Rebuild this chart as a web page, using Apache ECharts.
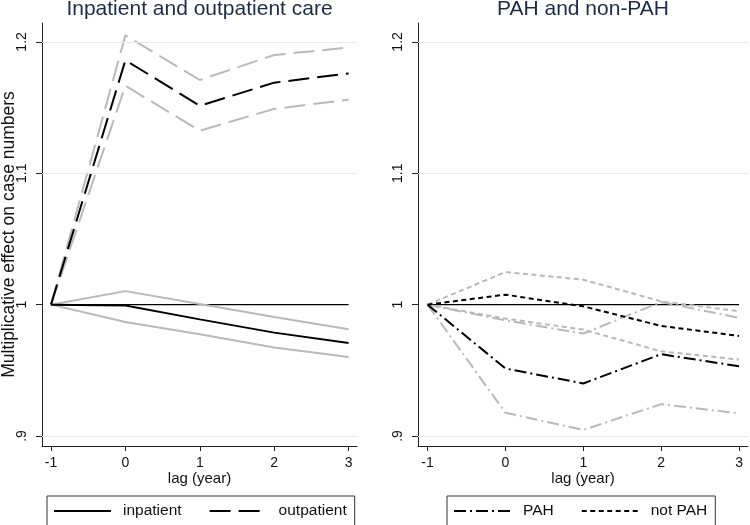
<!DOCTYPE html>
<html>
<head>
<meta charset="utf-8">
<script src="https://cdn.jsdelivr.net/npm/echarts@6/dist/echarts.min.js"></script>
<style>html,body{margin:0;padding:0;background:#fff}#c{width:750px;height:525px}</style>
</head>
<body>
<div id="c"></div>
<script>
// ---- data ----
const lags = [-1, 0, 1, 2, 3];
const xTicks = [-1, 0, 1, 2, 3];
const yTicks = [0.9, 1.0, 1.1, 1.2];
const yTickLabels = ['.9', '1', '1.1', '1.2'];
const refLine = [1, 1, 1, 1, 1];

const inpatient   = [1, 0.9993, 0.9888, 0.9787, 0.9708];
const inpatientHi = [1, 1.0103, 1.0005, 0.9906, 0.9812];
const inpatientLo = [1, 0.9868, 0.9774, 0.9673, 0.9602];

const outpatient   = [1, 1.1861, 1.1514, 1.1690, 1.1760];
const outpatientHi = [1, 1.2050, 1.1710, 1.1900, 1.1957];
const outpatientLo = [1, 1.1666, 1.1324, 1.1490, 1.1560];

const pah   = [1, 0.9514, 0.9400, 0.9623, 0.9531];
const pahHi = [1, 0.9880, 0.9780, 1.0020, 0.9900];
const pahLo = [1, 0.9177, 0.9046, 0.9243, 0.9172];

const notPah   = [1, 1.0076, 0.9987, 0.9838, 0.9762];
const notPahHi = [1, 1.0248, 1.0190, 1.0025, 0.9950];
const notPahLo = [1, 0.9894, 0.9810, 0.9645, 0.9582];

const titles = ['Inpatient and outpatient care', 'PAH and non-PAH'];
const yName = 'Multiplicative effect on case numbers';
const xName = 'lag (year)';
// ---- end data ----

const FONT = '"Liberation Sans", Arial, Helvetica, sans-serif';
const BLACK = '#000';
const GRAY = '#b9b9b9';
const pts = arr => lags.map((x, i) => [x, arr[i]]);

const DASH_LONG = [21, 8];
const DASH_DOT = [12, 4, 2, 4];
const DASH_SHORT = [5, 3.5];

function line(name, arr, idx, color, type, z) {
  return {
    name: name, type: 'line', xAxisIndex: idx, yAxisIndex: idx,
    data: pts(arr), symbol: 'none', silent: true, animation: false, z: z,
    lineStyle: { color: color, width: 2, type: type, cap: 'butt' },
    itemStyle: { color: color }
  };
}
function ref(idx) {
  return {
    name: 'ref' + idx, type: 'line', xAxisIndex: idx, yAxisIndex: idx,
    data: pts(refLine), symbol: 'none', silent: true, animation: false, z: 1,
    lineStyle: { color: '#000', width: 1.3 },
    markLine: {
      silent: true, symbol: 'none', animation: false, label: { show: false },
      lineStyle: { color: '#e3ebeb', width: 1, type: 'solid' },
      data: yTicks.filter(v => v !== 1).map(v => ({ yAxis: v }))
    }
  };
}

function xAxis(idx, min, max) {
  return {
    type: 'value', gridIndex: idx, min: min, max: max,
    name: xName, nameLocation: 'middle', nameGap: 25, nameMoveOverlap: false,
    nameTextStyle: { fontFamily: FONT, fontSize: 15, color: '#111' },
    axisLine: { show: true, onZero: false, lineStyle: { color: '#222', width: 1 } },
    axisTick: { show: true, length: 5, customValues: xTicks, lineStyle: { color: '#222' } },
    axisLabel: { customValues: xTicks, fontFamily: FONT, fontSize: 14, color: '#111', margin: 10,
      formatter: v => String(v) },
    splitLine: { show: false }
  };
}
function yAxis(idx, showName) {
  return {
    type: 'value', gridIndex: idx, min: 0.8924, max: 1.2144,
    name: showName ? yName : '', nameLocation: 'middle', nameGap: 24, nameRotate: 90, nameMoveOverlap: false,
    nameTextStyle: { fontFamily: FONT, fontSize: 17.5, color: '#111' },
    axisLine: { show: true, onZero: false, lineStyle: { color: '#222', width: 1 } },
    axisTick: { show: true, length: 6, customValues: yTicks, lineStyle: { color: '#222' } },
    axisLabel: { customValues: yTicks, rotate: 90, fontFamily: FONT, fontSize: 14, color: '#111', margin: 13,
      formatter: v => { const i = yTicks.findIndex(t => Math.abs(t - v) < 1e-6); return i >= 0 ? yTickLabels[i] : ''; } },
    splitLine: { show: false }
  };
}

const legendCommon = {
  orient: 'horizontal', top: 496, itemWidth: 57, itemHeight: 14, itemGap: 27,
  padding: [7, 8, 10, 6], borderColor: '#333', borderWidth: 1, borderRadius: 0,
  selectedMode: false,
  itemStyle: { opacity: 0 },
  textStyle: { fontFamily: FONT, fontSize: 15.5, color: '#111', padding: [0, 0, 0, 7] }
};

const option = {
  backgroundColor: '#fff',
  animation: false,
  title: [
    { text: titles[0], left: 199.5, top: -1, textAlign: 'center', padding: 0,
      textStyle: { fontFamily: FONT, fontSize: 21, fontWeight: 'normal', color: '#1e2a48' } },
    { text: titles[1], left: 583, top: -1, textAlign: 'center', padding: 0,
      textStyle: { fontFamily: FONT, fontSize: 21, fontWeight: 'normal', color: '#1e2a48' } }
  ],
  grid: [
    { left: 42, right: 393, top: 23, bottom: 79, containLabel: false, outerBoundsMode: 'none' },
    { left: 418, right: 2, top: 23, bottom: 79, containLabel: false, outerBoundsMode: 'none' }
  ],
  xAxis: [xAxis(0, -1.121, 3.113), xAxis(1, -1.123, 3.115)],
  yAxis: [yAxis(0, true), yAxis(1, false)],
  legend: [
    Object.assign({}, legendCommon, { left: 47, data: ['inpatient', 'outpatient'] }),
    Object.assign({}, legendCommon, { left: 447, data: ['PAH', 'not PAH'] })
  ],
  series: [
    ref(0),
    line('inpatient_hi', inpatientHi, 0, GRAY, 'solid', 2),
    line('inpatient_lo', inpatientLo, 0, GRAY, 'solid', 2),
    line('outpatient_hi', outpatientHi, 0, GRAY, DASH_LONG, 2),
    line('outpatient_lo', outpatientLo, 0, GRAY, DASH_LONG, 2),
    line('inpatient', inpatient, 0, BLACK, 'solid', 3),
    line('outpatient', outpatient, 0, BLACK, DASH_LONG, 3),
    ref(1),
    line('pah_hi', pahHi, 1, GRAY, DASH_DOT, 2),
    line('pah_lo', pahLo, 1, GRAY, DASH_DOT, 2),
    line('notpah_hi', notPahHi, 1, GRAY, DASH_SHORT, 2),
    line('notpah_lo', notPahLo, 1, GRAY, DASH_SHORT, 2),
    line('PAH', pah, 1, BLACK, DASH_DOT, 3),
    line('not PAH', notPah, 1, BLACK, DASH_SHORT, 3)
  ]
};

const chart = echarts.init(document.getElementById('c'), null, { renderer: 'canvas' });
chart.setOption(option);
</script>
</body>
</html>
